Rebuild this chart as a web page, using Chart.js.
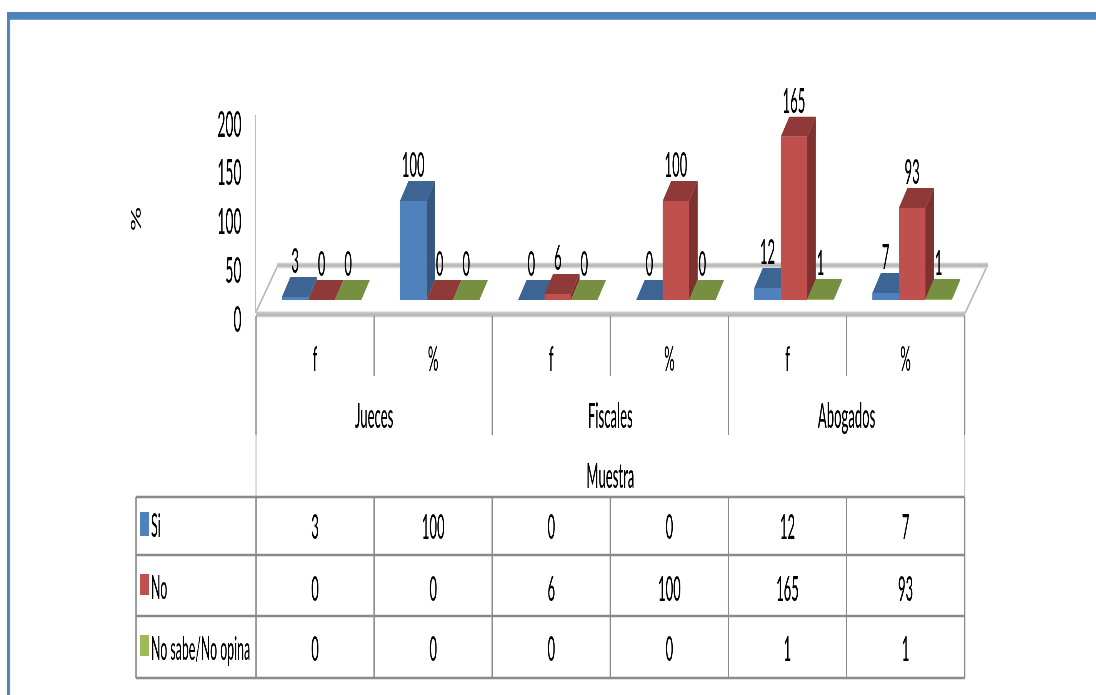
<!DOCTYPE html>
<html lang="es"><head><meta charset="utf-8">
<style>
html,body{margin:0;padding:0;background:#fff;overflow:hidden}
#wrap{position:relative;width:1096px;height:695px;overflow:hidden}
#c{position:absolute;left:0;top:0;transform-origin:0 0;transform:scaleX(0.384615)}
</style>
<script src="https://cdn.jsdelivr.net/npm/chart.js@4/dist/chart.umd.js"></script>
</head><body><div id="wrap"><canvas id="c" width="2850" height="695"></canvas></div>
<script>
const categories = ['f','%','f','%','f','%'];
const groups = ['Jueces','Fiscales','Abogados'];
const outerLabel = 'Muestra';
const axisTitle = '%';
const yTicks = [0,50,100,150,200];
const seriesNames = ['Si','No','No sabe/No opina'];
const si = [3,100,0,0,12,7];
const no = [0,0,6,100,165,93];
const noSabe = [0,0,0,0,1,1];
const fronts = ['#4F81BD','#C0504D','#9BBB59'];
const tops = ['#3C6594','#8F3A38','#768F41'];
const sides = ['#34567F','#7D3230','#64793A'];

const K = 2850/1096;
const X = p => p*K;
const FONT = 'Lato, "Liberation Sans", Arial, sans-serif';
const WEIGHT = 500;
const SIZE = 34;
const DEPTH_X = 8.5, DEPTH_Y = 20;
const TABLE_SHIFT = 6.5;

function line(ctx,x1,y1,x2,y2,color,w){
  ctx.strokeStyle=color;ctx.lineWidth=w;ctx.beginPath();ctx.moveTo(x1,y1);ctx.lineTo(x2,y2);ctx.stroke();
}
function poly(ctx,pts,color){
  ctx.fillStyle=color;ctx.beginPath();pts.forEach((p,i)=>i?ctx.lineTo(p[0],p[1]):ctx.moveTo(p[0],p[1]));ctx.closePath();ctx.fill();
}
function text(ctx,s,x,y,size,align){
  ctx.font=`${WEIGHT} ${size}px ${FONT}`;ctx.fillStyle='#000';ctx.textAlign=align||'center';ctx.textBaseline='middle';ctx.fillText(s,x,y);
}

const plot3d = {
  id:'plot3d',
  beforeDraw(chart){
    const c=chart.ctx;c.save();
    // page frame
    c.fillStyle='#4F81BD';c.fillRect(X(7),12,X(1096-7),8);c.fillRect(X(7),12,X(3),683);
    c.fillStyle='#7CA0D0';c.fillRect(X(10),19,X(1086),1);c.fillRect(X(9.5),20,X(.7),675);
    // value axis line
    line(c,X(255.5),115,X(255.5),313,'#BDBDBD',X(1.2));
    // floor edges
    line(c,X(256),312,X(277.5),266,'#BBBBBB',X(1.2));
    line(c,X(965),313,X(987),266,'#BBBBBB',X(1.2));
    let g=c.createLinearGradient(0,262,0,269);g.addColorStop(0,'#E4E4E4');g.addColorStop(.5,'#B4B4B4');g.addColorStop(1,'#EDEDED');
    c.fillStyle=g;c.fillRect(X(277),262.5,X(711),6);
    g=c.createLinearGradient(0,311,0,318);g.addColorStop(0,'#D2D2D2');g.addColorStop(.6,'#B4B4B4');g.addColorStop(1,'#EDEDED');
    c.fillStyle=g;c.fillRect(X(256),311.5,X(709),6);
    c.restore();
  },
  beforeDatasetsDraw(chart){
    const c=chart.ctx;c.save();
    const dx=X(DEPTH_X),dy=DEPTH_Y;
    chart.data.datasets.forEach((d,di)=>{
      chart.getDatasetMeta(di).data.forEach(b=>{
        const l=b.x-b.width/2,r=b.x+b.width/2;
        poly(c,[[r,b.y],[r+dx,b.y-dy],[r+dx,b.base-dy],[r,b.base]],sides[di]);
        poly(c,[[l,b.y],[r,b.y],[r+dx,b.y-dy],[l+dx,b.y-dy]],tops[di]);
      });
    });
    c.restore();
  },
  afterDraw(chart){
    const c=chart.ctx;c.save();
    const xs=chart.scales.x,shift=X(TABLE_SHIFT),n=categories.length;
    const col=i=>xs.getPixelForTick(i)-shift;
    const cw=col(1)-col(0);
    const edge=i=>col(0)-cw/2+i*cw;
    // data labels
    chart.data.datasets.forEach((d,di)=>{
      chart.getDatasetMeta(di).data.forEach((b,i)=>text(c,String(d.data[i]),b.x,b.y-35,SIZE));
    });
    // axis title
    c.save();c.setTransform(0,-0.9,K*0.42,0,X(136),219);
    text(c,axisTitle,0,0,SIZE);c.restore();
    // multi-level category tiers
    for(let i=0;i<=n;i++){
      const outer=(i===0||i===n);
      line(c,edge(i),316,edge(i),i%2===0?435:376,'#8C8C8C',X(1.3));
      if(outer) line(c,edge(i),435,edge(i),496,'#C8C8C8',X(1.1));
    }
    groups.forEach((g,i)=>text(c,g,edge(i*2+1),417,SIZE));
    text(c,outerLabel,edge(n/2),477,SIZE);
    // data table
    const rows=[497,555,616,678],left=X(136);
    rows.forEach(y=>line(c,left,y,edge(n),y,'#8A8A8A',2.6));
    [left].concat(Array.from({length:n+1},(_,i)=>edge(i))).forEach(x=>line(c,x,497,x,678,'#8A8A8A',X(1.5)));
    const keyY=[[512,24],[574,21],[635,21]],textY=[527,589,650],cellY=[528,590,650];
    chart.data.datasets.forEach((d,di)=>{
      c.fillStyle=fronts[di];c.fillRect(X(140),keyY[di][0],X(9),keyY[di][1]);
      text(c,d.label,X(151),textY[di],32,'left');
      d.data.forEach((v,i)=>text(c,String(v),col(i),cellY[di],SIZE));
    });
    c.restore();
  }
};

new Chart(document.getElementById('c'),{
  type:'bar',
  data:{labels:categories,datasets:[
    {label:seriesNames[0],data:si,backgroundColor:fronts[0]},
    {label:seriesNames[1],data:no,backgroundColor:fronts[1]},
    {label:seriesNames[2],data:noSabe,backgroundColor:fronts[2]}
  ]},
  plugins:[plot3d],
  options:{
    responsive:false,animation:false,devicePixelRatio:1,
    layout:{padding:{top:100,bottom:0,left:0,right:2850-X(971)}},
    plugins:{legend:{display:false},tooltip:{enabled:false},title:{display:false}},
    datasets:{bar:{categoryPercentage:0.673,barPercentage:1,borderWidth:0}},
    scales:{
      x:{position:'bottom',grid:{display:false},border:{display:false},
        afterFit:s=>{s.height=695-320;},
        ticks:{color:'#000',font:{family:FONT,size:SIZE,weight:WEIGHT},padding:12,labelOffset:-X(TABLE_SHIFT),autoSkip:false,maxRotation:0}},
      y:{display:false,min:-20.2,max:202.02},
      y1:{position:'left',min:0,max:225.6,grid:{display:false},border:{display:false},
        afterBuildTicks:s=>{s.ticks=yTicks.map(v=>({value:v}));},
        afterFit:s=>{s.width=X(262.5);},
        ticks:{color:'#000',font:{family:FONT,size:36,weight:WEIGHT},padding:X(18),autoSkip:false}}
    }
  }
});
</script></body></html>
